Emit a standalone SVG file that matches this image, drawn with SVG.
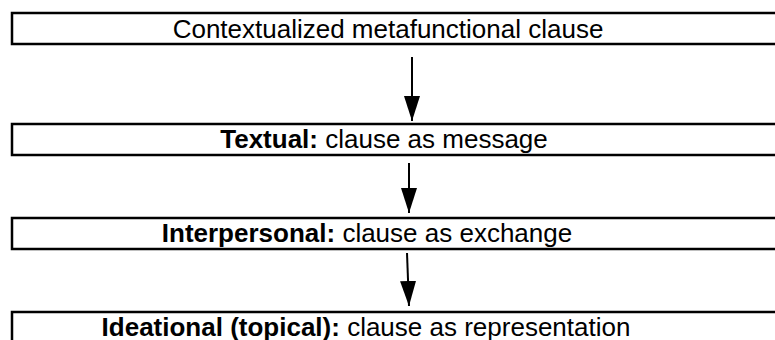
<svg xmlns="http://www.w3.org/2000/svg" width="775" height="340" viewBox="0 0 775 340">
<defs>
<marker id="ah" viewBox="0 0 25 16" refX="25" refY="8" markerWidth="25" markerHeight="16" markerUnits="userSpaceOnUse" orient="auto">
<path d="M0,0 L25,8 L0,16 Z" fill="#000"/>
</marker>
<style>
.box{fill:#fff;stroke:#000;stroke-width:2.5}
.t{font-family:"Liberation Sans",Arial,sans-serif;font-size:26px;fill:#000;text-anchor:middle}
.b{font-weight:bold}
.c{stroke:#000;stroke-width:2;fill:none}
</style>
</defs>
<rect width="775" height="340" fill="#fff"/>
<g id="n1"><rect class="box" x="12" y="13" width="780" height="31"/><text class="t" x="388" y="38">Contextualized metafunctional clause</text></g>
<g id="n2"><rect class="box" x="12" y="124" width="780" height="31"/><text class="t" x="384" y="148"><tspan class="b">Textual:</tspan> clause as message</text></g>
<g id="n3"><rect class="box" x="12" y="218" width="780" height="31"/><text class="t" x="367" y="242"><tspan class="b">Interpersonal:</tspan> clause as exchange</text></g>
<g id="n4"><rect class="box" x="12" y="312" width="780" height="40"/><text class="t" x="366" y="336"><tspan class="b">Ideational (topical):</tspan> clause as representation</text></g>
<g id="connectors">
<line class="c" x1="412" y1="57" x2="412" y2="121" marker-end="url(#ah)"/>
<line class="c" x1="409" y1="163" x2="409" y2="213" marker-end="url(#ah)"/>
<line class="c" x1="407" y1="253" x2="409" y2="306" marker-end="url(#ah)"/>
</g>
</svg>
